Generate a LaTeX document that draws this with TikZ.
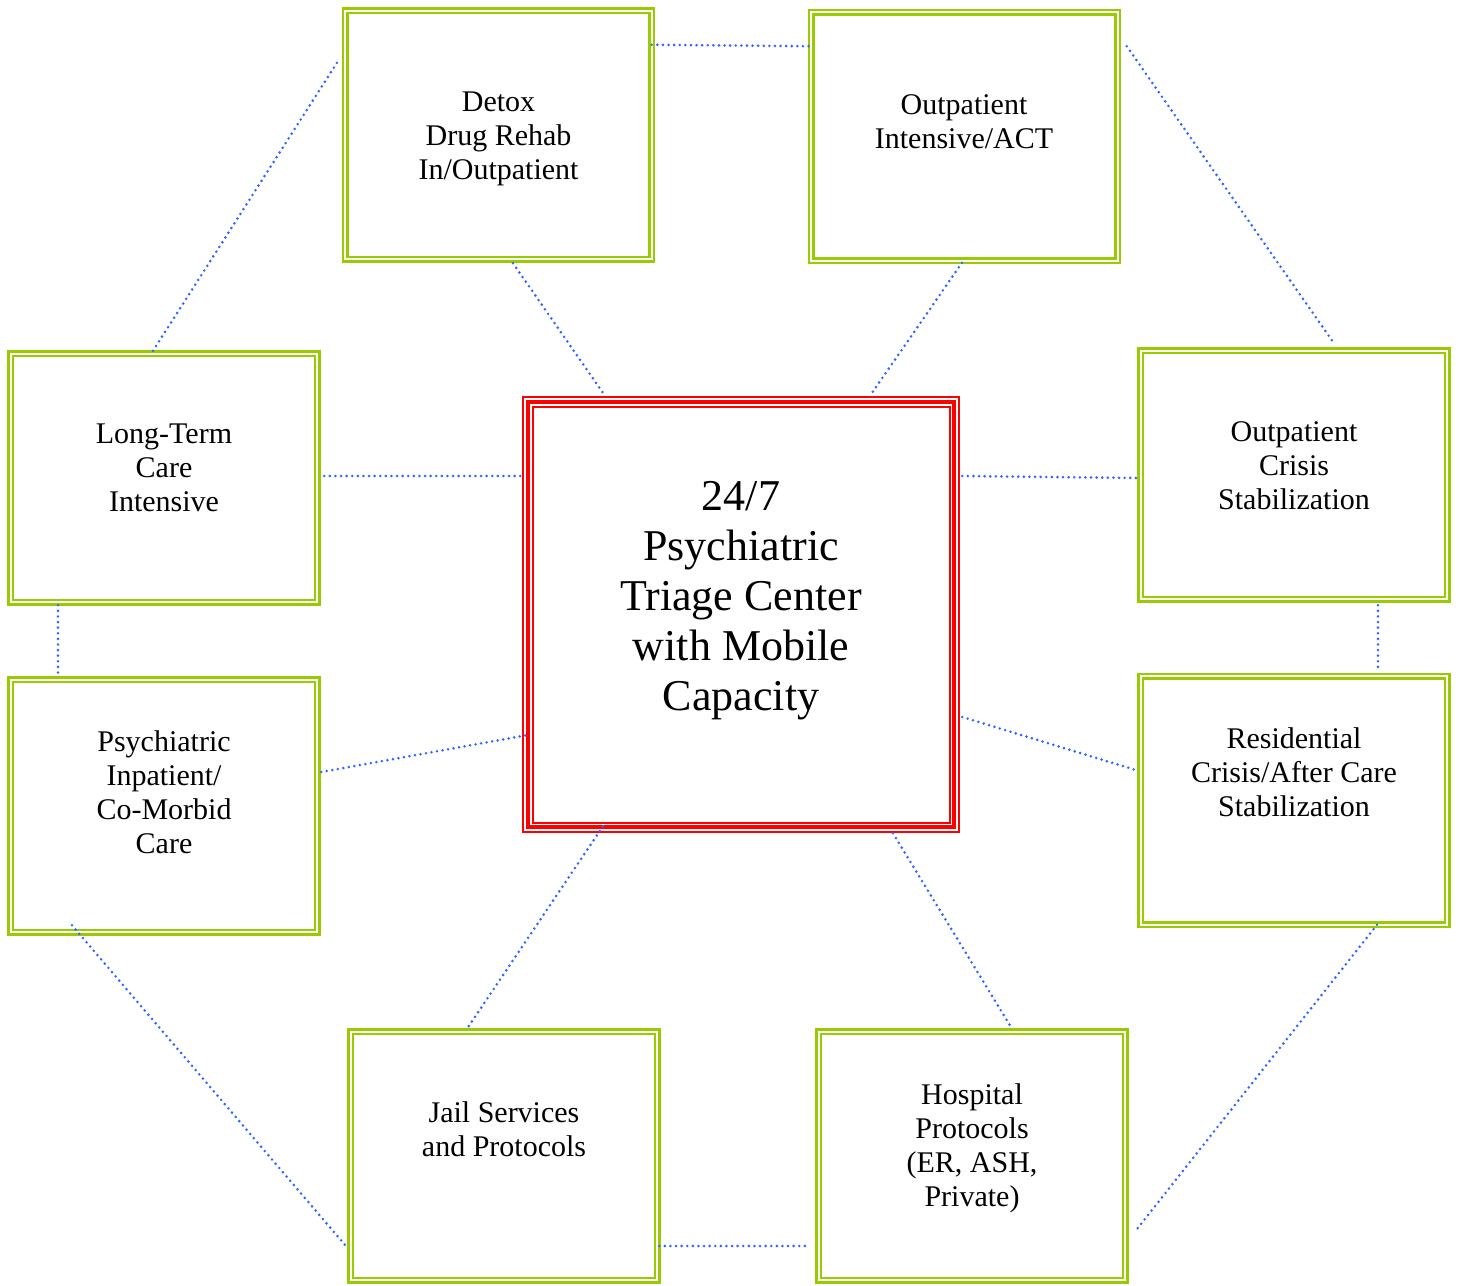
\documentclass[tikz,border=0pt]{standalone}
\usepackage{fontspec}
\setmainfont{Liberation Serif}
\usepackage{tikz}
\usetikzlibrary{calc, positioning}
\definecolor{carelime}{RGB}{153,204,0}
\definecolor{linkblue}{RGB}{51,102,255}

\begin{document}
\begin{tikzpicture}[
    x=1pt, y=-1pt,
    carebox/.style={rectangle, draw=carelime, double=white, double distance=1.8pt, line width=2.7pt, minimum width=306.5pt, minimum height=248.5pt, inner sep=0pt, outer sep=0pt},
    triagebox/.style={rectangle, draw=red, line width=11.5pt, minimum width=426.5pt, minimum height=425.5pt, inner sep=0pt, outer sep=0pt, postaction={draw=white, line width=7.5pt}, postaction={draw=red, line width=4pt}},
    boxtext/.style={anchor=north, align=center, inner sep=0pt, font=\fontsize{30}{34}\selectfont},
    triagetext/.style={anchor=north, align=center, inner sep=0pt, font=\fontsize{44}{50}\selectfont},
    link/.style={draw=linkblue, line width=2.9pt, line cap=round, dash pattern=on 0pt off 5.6pt},
]
    \useasboundingbox (0,0) rectangle (1461,1285);

    % Center box
    \node[triagebox] (triage) at (741,614.5) {};
    \node[triagetext] at (741,481) {24/7\\Psychiatric\\Triage Center\\with Mobile\\Capacity};

    % Service boxes around it
    \node[carebox] (detox) at (498.5,135) {};
    \node[carebox] (opint) at (964.5,136.5) {};
    \node[carebox] (ltc) at (164,478) {};
    \node[carebox] (opcrisis) at (1294,475) {};
    \node[carebox, minimum height=252.5pt] (inpat) at (164,806) {};
    \node[carebox] (resid) at (1294,800.5) {};
    \node[carebox] (jail) at (504,1156) {};
    \node[carebox] (hosp) at (972,1156) {};

    \node[boxtext] at (498.5,92) {Detox\\Drug Rehab\\In/Outpatient};
    \node[boxtext] at (964,94) {Outpatient\\Intensive/ACT};
    \node[boxtext] at (164,424) {Long-Term\\Care\\Intensive};
    \node[boxtext] at (1294,421) {Outpatient\\Crisis\\Stabilization};
    \node[boxtext] at (164,730) {Psychiatric\\Inpatient/\\Co-Morbid\\Care};
    \node[boxtext] at (1294,727) {Residential\\Crisis/After Care\\Stabilization};
    \node[boxtext] at (504,1101) {Jail Services\\and Protocols};
    \node[boxtext] at (972,1083) {Hospital\\Protocols\\(ER, ASH,\\Private)};

    % Outer ring
    \draw[link] ($(detox.north east)+(0,34)$) -- ($(opint.north west)+(0,34)$);
    \draw[link] ($(opint.north east)+(9,34)$) -- ($(opcrisis.north)+(41,-6)$);
    \draw[link] ($(ltc.north)+(-11,-3)$) -- ($(detox.north west)+(-7,50)$);
    \draw[link] ($(ltc.south)+(-106,3)$) -- ($(inpat.north)+(-106,-3)$);
    \draw[link] ($(opcrisis.south)+(84,6)$) -- ($(resid.north)+(84,-6)$);
    \draw[link] ($(inpat.south)+(-92,-7)$) -- ($(jail.west)+(-4,91)$);
    \draw[link] ($(jail.east)+(2,90)$) -- ($(hosp.west)+(-10,90)$);
    \draw[link] ($(resid.south)+(83,0)$) -- ($(hosp.east)+(11,74)$);

    % Spokes to the center
    \draw[link] ($(detox.south)+(14.5,4)$) -- ($(triage.north)+(-136,-6)$);
    \draw[link] ($(opint.south)+(-2.5,2)$) -- ($(triage.north)+(129,-6)$);
    \draw[link] ($(ltc.east)+(7,-2)$) -- ($(triage.west)+(-3,-138.5)$);
    \draw[link] ($(triage.east)+(8,-138.5)$) -- ($(opcrisis.west)+(-3,3)$);
    \draw[link] ($(inpat.east)+(4,-34)$) -- ($(triage.west)+(0,120.5)$);
    \draw[link] ($(triage.east)+(8,102.5)$) -- ($(resid.west)+(-5,-30.5)$);
    \draw[link] ($(triage.south)+(-138,-1)$) -- ($(jail.north)+(-37,-3)$);
    \draw[link] ($(triage.south)+(152,6)$) -- ($(hosp.north)+(40,-3)$);
\end{tikzpicture}
\end{document}
